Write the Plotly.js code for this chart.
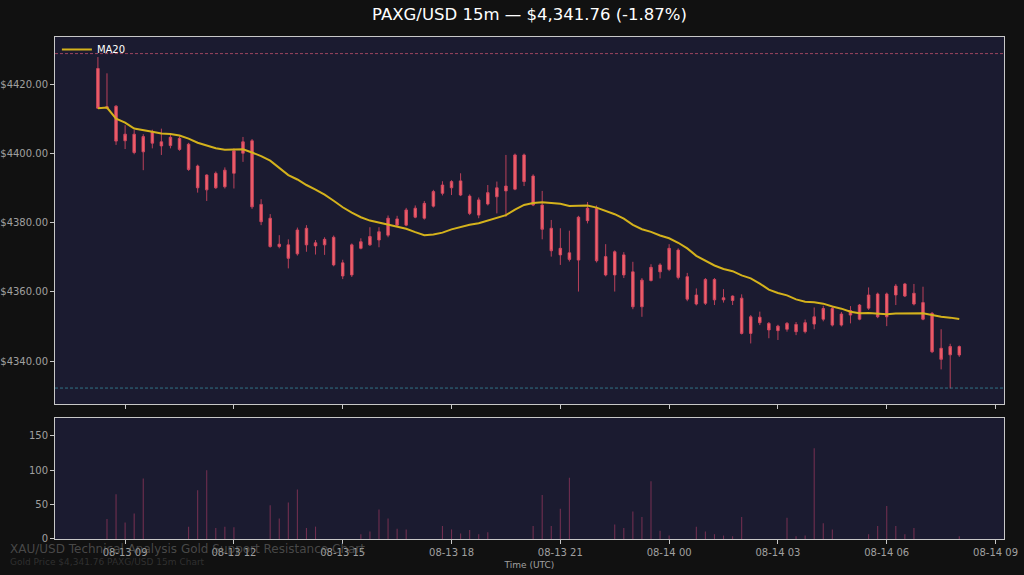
<!DOCTYPE html>
<html>
<head>
<meta charset="utf-8">
<script src="https://cdn.plot.ly/plotly-3.0.1.min.js"></script>
<style>
html,body{margin:0;padding:0;background:#111111;}
#chart{width:1024px;height:575px;}
</style>
</head>
<body>
<div id="chart"></div>
<script>
// ---- data ----
const startTime = '2025-08-13 08:15';
const barMinutes = 15;

const openPrices = [
4424.6,4413.2,4413.7,4403.7,4405.6,4400.5,4406.3,4403.4,4402.3,4404.4,
4402.7,4396.4,4389.5,4394.3,4390.4,4394.3,4400.1,4403.7,4385.3,4381.3,
4373.1,4373.6,4371.0,4378.4,4373.3,4373.6,4375.8,4368.4,4364.9,4372.6,
4373.6,4375.0,4376.4,4381.1,4379.3,4384.2,4381.3,4384.8,4388.5,4390.1,
4392.1,4387.7,4382.2,4385.4,4387.5,4389.2,4389.7,4399.6,4393.5,4385.1,
4378.4,4370.7,4371.3,4369.2,4380.6,4384.2,4370.2,4364.9,4370.7,4365.8,
4355.7,4363.3,4367.8,4366.5,4372.1,4364.4,4359.1,4356.7,4363.6,4357.7,
4357.5,4358.2,4348.0,4352.7,4350.9,4348.8,4349.2,4350.6,4348.5,4350.7,
4352.1,4355.2,4350.4,4353.3,4352.1,4355.3,4359.4,4352.8,4359.1,4362.3,
4359.6,4356.9,4353.8,4343.7,4341.8,4344.2];

const closePrices = [
4413.1,4413.5,4403.6,4405.6,4400.3,4404.9,4403.0,4402.2,4404.7,4401.2,
4395.4,4390.1,4393.8,4390.1,4395.2,4400.8,4403.4,4384.6,4380.3,4373.1,
4373.8,4369.7,4377.9,4373.6,4374.2,4375.2,4367.8,4364.6,4373.6,4374.5,
4376.0,4377.4,4381.3,4379.3,4383.7,4381.6,4385.6,4389.0,4390.9,4391.9,
4388.0,4382.7,4386.6,4388.7,4390.1,4390.6,4399.6,4391.9,4385.1,4378.1,
4371.9,4372.6,4369.4,4381.6,4384.2,4369.0,4364.9,4371.6,4364.9,4355.7,
4363.4,4367.1,4365.8,4372.6,4364.2,4357.9,4356.5,4363.6,4357.7,4358.3,
4358.8,4348.0,4352.8,4351.1,4349.0,4350.1,4350.9,4348.5,4351.1,4352.8,
4355.2,4350.4,4353.6,4354.6,4356.2,4359.1,4352.8,4359.4,4361.7,4358.8,
4356.5,4352.1,4342.7,4340.5,4344.2,4341.76];

const highPrices = [
4427.9,4423.2,4414.0,4408.2,4406.8,4405.6,4406.9,4407.2,4405.4,4405.0,
4403.1,4396.8,4394.0,4394.8,4396.0,4401.5,4404.8,4404.2,4386.8,4382.5,
4376.4,4375.2,4378.6,4379.3,4375.0,4375.8,4376.3,4369.3,4374.0,4375.5,
4378.7,4378.7,4382.1,4382.0,4384.3,4385.0,4386.3,4389.5,4392.0,4392.3,
4394.3,4388.2,4387.3,4390.9,4391.9,4399.6,4400.0,4400.0,4394.0,4389.2,
4380.8,4378.4,4377.7,4382.0,4386.0,4385.0,4373.8,4372.0,4371.5,4368.7,
4364.0,4368.0,4368.3,4373.8,4372.6,4365.5,4361.0,4364.0,4364.0,4360.8,
4359.0,4359.3,4353.3,4354.3,4351.3,4350.5,4351.3,4351.3,4352.0,4355.5,
4356.0,4356.0,4354.2,4355.9,4356.5,4361.3,4359.8,4359.8,4362.3,4362.6,
4362.3,4361.5,4354.2,4349.2,4345.0,4344.5];

const lowPrices = [
4412.9,4412.8,4402.5,4401.3,4399.8,4395.2,4401.5,4399.6,4401.5,4400.8,
4395.0,4388.7,4386.3,4389.8,4389.9,4389.9,4397.6,4384.0,4379.3,4372.8,
4372.6,4366.8,4370.5,4371.6,4370.8,4370.7,4367.4,4363.7,4364.3,4372.3,
4373.3,4372.9,4375.8,4379.0,4379.0,4381.3,4380.9,4384.4,4387.9,4388.0,
4387.7,4382.2,4381.3,4385.0,4382.7,4381.7,4389.4,4390.6,4384.8,4375.2,
4370.2,4367.8,4368.8,4360.1,4379.8,4368.5,4364.5,4360.1,4364.0,4355.0,
4352.8,4363.0,4363.9,4366.0,4363.6,4357.3,4356.1,4356.2,4356.2,4356.9,
4356.2,4347.7,4345.1,4350.4,4346.6,4346.1,4348.5,4347.5,4348.0,4349.2,
4351.5,4350.0,4350.0,4350.9,4351.8,4354.8,4352.4,4350.1,4356.2,4358.5,
4356.1,4351.8,4342.3,4337.6,4332.1,4341.2];

const volumes = [
0,29,65,24,37,88,0,0,0,0,
18,71,100,16,18,17,0,0,0,49,
30,53,72,16,18,0,0,0,0,7,
11,43,30,15,14,0,0,0,19,14,
8,13,7,10,0,0,0,0,19,64,
19,44,89,0,0,0,0,21,16,40,
32,84,12,5,0,0,18,11,7,5,
4,32,0,0,0,0,31,4,5,132,
23,14,0,0,0,7,19,48,19,7,
16,0,0,0,0,4];

const resistanceLevel = 4428.9;
const supportLevel = 4332.2;
const maPeriod = 20;
const titleText = 'PAXG/USD 15m \u2014 $4,341.76 (-1.87%)';
const watermark1 = 'XAU/USD Technical Analysis Gold Support Resistance Chart';
const watermark2 = 'Gold Price $4,341.76 PAXG/USD 15m Chart';
const tickTimes = ['2025-08-13 09:00','2025-08-13 12:00','2025-08-13 15:00','2025-08-13 18:00','2025-08-13 21:00','2025-08-14 00:00','2025-08-14 03:00','2025-08-14 06:00','2025-08-14 09:00'];
const tickLabels = ['08-13 09','08-13 12','08-13 15','08-13 18','08-13 21','08-14 00','08-14 03','08-14 06','08-14 09'];

// ---- derived ----
function pad(n){return (n<10?'0':'')+n;}
const t0 = new Date(startTime.replace(' ','T')+':00Z').getTime();
const times = openPrices.map((_,i)=>{
  const d = new Date(t0 + i*barMinutes*60000);
  return d.getUTCFullYear()+'-'+pad(d.getUTCMonth()+1)+'-'+pad(d.getUTCDate())+' '+pad(d.getUTCHours())+':'+pad(d.getUTCMinutes());
});
const ma20 = closePrices.map((_,i)=>{
  const s = Math.max(0,i-maPeriod+1);
  const w = closePrices.slice(s,i+1);
  return w.reduce((a,b)=>a+b,0)/w.length;
});

const traces = [
 {type:'candlestick', x:times, open:openPrices, high:highPrices, low:lowPrices, close:closePrices,
  xaxis:'x', yaxis:'y', showlegend:false, hoverinfo:'skip', whiskerwidth:0,
  increasing:{line:{color:'rgba(214,72,98,0.85)',width:1}, fillcolor:'#ee6068'},
  decreasing:{line:{color:'rgba(214,72,98,0.85)',width:1}, fillcolor:'#ee6068'}},
 {type:'scatter', mode:'lines', x:times, y:ma20, name:'MA20', xaxis:'x', yaxis:'y',
  line:{color:'#d4b21c', width:2}},
 {type:'bar', x:times, y:volumes, xaxis:'x2', yaxis:'y2', showlegend:false,
  width:barMinutes*60000*0.12, marker:{color:'rgba(170,60,100,0.6)', line:{width:0}}}
];

const axisCommon = {showgrid:false, zeroline:false, showline:true, mirror:true, linecolor:'#c8c8c8', linewidth:1,
  ticks:'outside', ticklen:4, tickcolor:'#c8c8c8', tickfont:{family:'DejaVu Sans', size:10, color:'#a0a0a0'}};
const xRange = ['2025-08-13 07:04','2025-08-14 09:14'];

const layout = {
  width:1024, height:575,
  paper_bgcolor:'#111111', plot_bgcolor:'#1b1b30',
  margin:{l:55, r:20, t:37, b:36},
  boxgap:0.6,
  font:{family:'DejaVu Sans', color:'#cccccc'},
  title:{text:titleText, font:{family:'DejaVu Sans', size:16.5, color:'#ffffff'}, xref:'paper', x:0.5, xanchor:'center', y:0.975, yanchor:'middle', yref:'container'},
  showlegend:true,
  legend:{x:0.002, y:1.004, xanchor:'left', yanchor:'top', bgcolor:'rgba(0,0,0,0)', borderwidth:0, font:{family:'DejaVu Sans', size:10, color:'#ffffff'}},
  xaxis:Object.assign({}, axisCommon, {type:'date', range:xRange, domain:[0,1], anchor:'y', tickvals:tickTimes, ticktext:tickLabels, showticklabels:false, rangeslider:{visible:false}}),
  yaxis:Object.assign({}, axisCommon, {domain:[0.269,1], range:[4327.6,4433.7], dtick:20, tick0:4340, tickprefix:'$', tickformat:'.2f'}),
  xaxis2:Object.assign({}, axisCommon, {type:'date', range:xRange, domain:[0,1], anchor:'y2', matches:'x', tickvals:tickTimes, ticktext:tickLabels,
     title:{text:'Time (UTC)', font:{family:'DejaVu Sans', size:9, color:'#a0a0a0'}, standoff:4}}),
  yaxis2:Object.assign({}, axisCommon, {domain:[0,0.241], range:[0,176], tickvals:[0,50,100,150]}),
  shapes:[
    {type:'line', xref:'paper', x0:0, x1:1, yref:'y', y0:resistanceLevel, y1:resistanceLevel, line:{color:'rgba(225,90,120,0.65)', width:1, dash:'3px,2px'}},
    {type:'line', xref:'paper', x0:0, x1:1, yref:'y', y0:supportLevel, y1:supportLevel, line:{color:'rgba(60,160,180,0.65)', width:1, dash:'3px,2px'}}
  ],
  annotations:[
    {text:watermark1, xref:'paper', yref:'paper', x:-0.0495, y:-0.02, xanchor:'left', yanchor:'middle', showarrow:false, font:{family:'DejaVu Sans', size:12, color:'rgba(110,110,110,0.6)'}},
    {text:watermark2, xref:'paper', yref:'paper', x:-0.0495, y:-0.046, xanchor:'left', yanchor:'middle', showarrow:false, font:{family:'DejaVu Sans', size:9, color:'rgba(80,80,80,0.5)'}}
  ]
};

Plotly.newPlot('chart', traces, layout, {displayModeBar:false, staticPlot:true});
</script>
</body>
</html>
